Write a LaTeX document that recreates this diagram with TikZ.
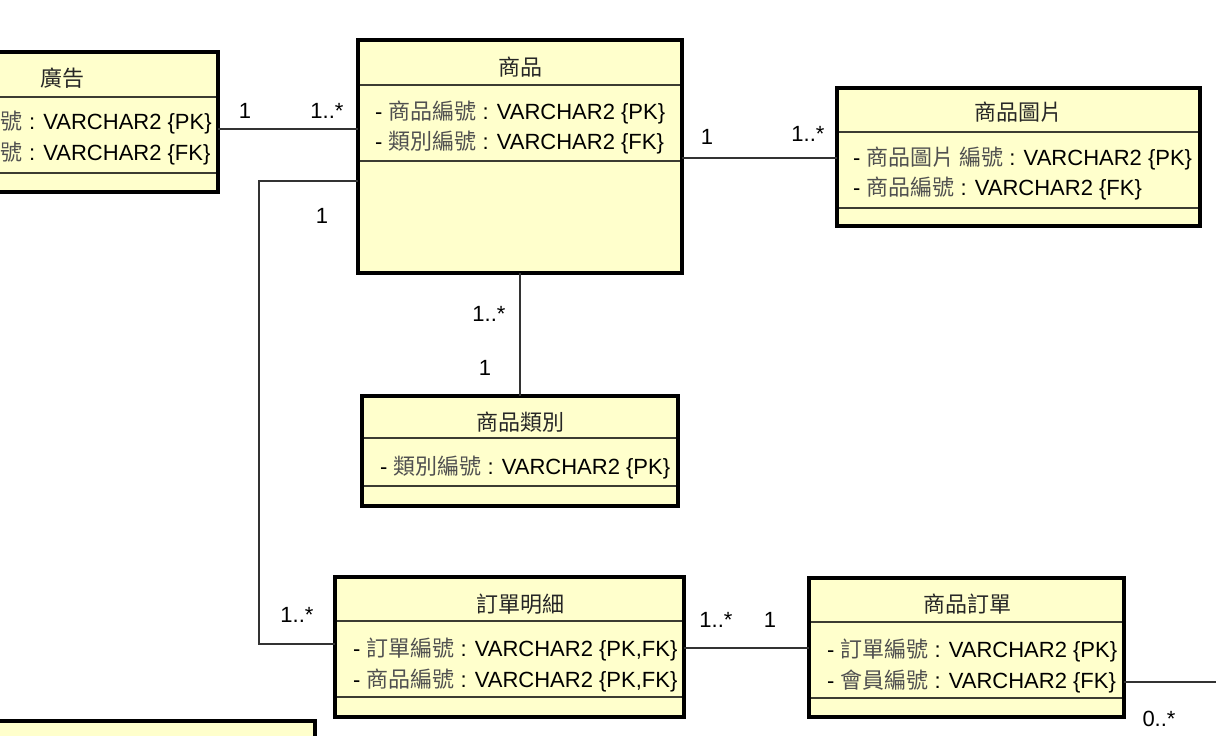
\documentclass[tikz,border=0pt]{standalone}
\usepackage{fontspec}
\setmainfont{Liberation Sans}
\newfontfamily\cjk{Noto Sans CJK TC}
\definecolor{boxfill}{RGB}{255,255,204}
\definecolor{zhgray}{RGB}{80,80,80}
\definecolor{divcol}{RGB}{60,60,50}
\newcommand\zh[1]{{\cjk\color{zhgray}#1}}
\newcommand\zt[1]{{\cjk\color{black!85}#1}}
\tikzset{
  cls/.style={draw=black, line width=3.5pt, fill=boxfill, inner sep=0pt, outer sep=0pt, anchor=north west, rectangle},
  divl/.style={draw=divcol, line width=1.5pt},
  conn/.style={draw=black!80, line width=1.5pt},
  txt/.style={inner sep=0pt, outer sep=0pt, font=\fontsize{22}{26}\selectfont},
  attr/.style={txt, anchor=base west},
  ttl/.style={txt, anchor=base},
  mult/.style={txt, anchor=base},
}
% name, left, top, right, bottom, divider1, divider2
\newcommand\clsbox[7]{%
  \node[cls, minimum width={#4-(#2)}, minimum height={#5-(#3)}] (#1) at (#2,#3) {};
  \draw[divl] ({#2+1.7},#6) -- ({#4-1.7},#6);
  \draw[divl] ({#2+1.7},#7) -- ({#4-1.7},#7);
}
\begin{document}
\begin{tikzpicture}[x=1pt,y=-1pt]
\useasboundingbox (0,0) rectangle (1216,736);

% boxes
\clsbox{ad}{-100}{52}{218}{192}{97}{173}
\clsbox{sp}{358}{40}{682}{273}{85}{161}
\clsbox{img}{837}{88}{1200}{226}{132}{208}
\clsbox{cat}{362}{396}{678}{506}{438}{486}
\clsbox{od}{335}{577}{684}{717}{621}{697}
\clsbox{ord}{809}{578}{1124}{717}{622}{698}
\node[cls, minimum width=415, minimum height=80] (bl) at (-100,721) {};

% titles
\node[ttl] (ad-t) at (62,86.5) {\zt{廣告}};
\node[ttl] (sp-t) at (520,75.5) {\zt{商品}};
\node[ttl] (img-t) at (1018,120.5) {\zt{商品圖片}};
\node[ttl] (cat-t) at (520,430.5) {\zt{商品類別}};
\node[ttl] (od-t) at (520,612.5) {\zt{訂單明細}};
\node[ttl] (ord-t) at (967,612.5) {\zt{商品訂單}};

% attributes
\node[attr] (ad-a1) at (1,129) {\zh{號} : VARCHAR2 \{PK\}};
\node[attr] (ad-a2) at (1,160) {\zh{號} : VARCHAR2 \{FK\}};
\node[attr] (sp-a1) at (375,119) {- \zh{商品編號} : VARCHAR2 \{PK\}};
\node[attr] (sp-a2) at (375,149) {- \zh{類別編號} : VARCHAR2 \{FK\}};
\node[attr] (img-a1) at (853,165) {- \zh{商品圖片 編號} : VARCHAR2 \{PK\}};
\node[attr] (img-a2) at (853,195) {- \zh{商品編號} : VARCHAR2 \{FK\}};
\node[attr] (cat-a1) at (380,474) {- \zh{類別編號} : VARCHAR2 \{PK\}};
\node[attr] (od-a1) at (353,656) {- \zh{訂單編號} : VARCHAR2 \{PK,FK\}};
\node[attr] (od-a2) at (353,687) {- \zh{商品編號} : VARCHAR2 \{PK,FK\}};
\node[attr] (ord-a1) at (827,657) {- \zh{訂單編號} : VARCHAR2 \{PK\}};
\node[attr] (ord-a2) at (827,688) {- \zh{會員編號} : VARCHAR2 \{FK\}};

% connectors
\coordinate (bend) at (259,644);
\coordinate (out) at (1240,682);
\draw[conn] (ad.east |- 0,129) -- (sp.west |- 0,129);
\draw[conn] (sp.east |- 0,158) -- (img.west |- 0,158);
\draw[conn] (sp.south) -- (cat.north);
\draw[conn] (sp.west |- 0,181) -| (bend) -- (od.west |- bend);
\draw[conn] (od.east |- 0,648) -- (ord.west |- 0,648);
\draw[conn] (ord.east |- out) -- (out);

% multiplicities
\node[mult] (m1) at (245,118) {1};
\node[mult] (m2) at (327,118) {1..*};
\node[mult] (m3) at (707,144) {1};
\node[mult] (m4) at (808,141) {1..*};
\node[mult] (m5) at (489,321) {1..*};
\node[mult] (m6) at (485,375) {1};
\node[mult] (m7) at (322,223) {1};
\node[mult] (m8) at (297,622) {1..*};
\node[mult] (m9) at (716,627) {1..*};
\node[mult] (m10) at (770,627) {1};
\node[mult] (m11) at (1159,726) {0..*};
\end{tikzpicture}
\end{document}
